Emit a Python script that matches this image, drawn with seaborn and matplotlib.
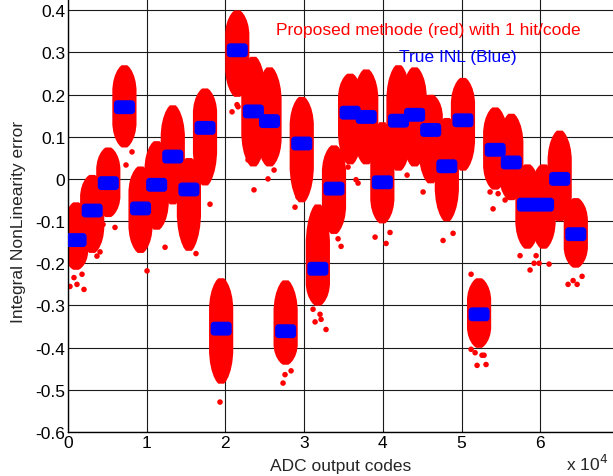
import numpy as np
import pandas as pd
import matplotlib
matplotlib.use("Agg")
import matplotlib.pyplot as plt
from matplotlib.path import Path
import seaborn as sns

# ADC of 2^16 codes split into 32 segments of 2048 codes (x axis in units of 1e4 codes)
n_segments = 32
codes_per_segment = 2048

# true INL level of each segment (blue)
true_inl = [-0.145, -0.075, -0.010, 0.170, -0.070, -0.014, 0.053, -0.025,
            0.121, -0.355, 0.305, 0.160, 0.137, -0.361, 0.084, -0.213,
            -0.023, 0.157, 0.147, -0.008, 0.138, 0.152, 0.116, 0.030,
            0.139, -0.321, 0.069, 0.039, -0.061, -0.061, 0.000, -0.131]

# extent of the dense cloud of estimated INL values (red), per segment
red_hi = [-0.058, 0.007, 0.072, 0.267, 0.027, 0.087, 0.172, 0.047,
          0.212, -0.238, 0.397, 0.287, 0.262, -0.243, 0.192, -0.063,
          0.077, 0.247, 0.257, 0.132, 0.267, 0.262, 0.197, 0.142,
          0.237, -0.238, 0.167, 0.152, 0.032, 0.032, 0.112, -0.048]
red_lo = [-0.213, -0.173, -0.088, 0.077, -0.173, -0.118, -0.058, -0.168,
          -0.013, -0.483, 0.197, 0.032, 0.032, -0.438, -0.053, -0.298,
          -0.128, 0.037, 0.037, -0.103, 0.022, 0.032, -0.008, -0.098,
          0.022, -0.398, -0.023, -0.048, -0.163, -0.163, -0.098, -0.208]

# isolated estimates lying outside the dense clouds
outlier_x = [0.025, 0.114, 0.203, 0.076, 0.178, 0.368, 0.407, 0.445, 0.597,
             0.737, 0.813, 1.004, 1.233, 1.499, 1.626, 1.576, 1.804, 1.931,
             2.084, 2.147, 2.160, 2.363, 2.287, 2.541, 2.618, 2.732, 2.757,
             2.834, 2.884, 2.922, 3.113, 3.215, 3.139, 3.278, 3.202, 3.431,
             3.469, 3.558, 3.685, 3.659, 3.901, 4.041, 4.091, 4.308, 4.511,
             4.892, 4.765, 5.121, 5.172, 5.260, 5.286, 5.197, 5.311, 5.121,
             5.362, 5.464, 5.400, 5.553, 5.870, 5.921, 5.985, 6.112, 5.743,
             5.947, 6.353, 6.417, 6.468, 6.531]
outlier_y = [-0.255, -0.250, -0.262, -0.234, -0.226, -0.183, -0.173, -0.108, -0.115,
             0.033, 0.064, -0.218, -0.162, -0.158, -0.177, -0.150, -0.060, -0.529,
             0.159, 0.176, 0.171, -0.026, 0.045, 0.000, 0.021, -0.484, -0.464,
             -0.455, -0.067, -0.043, -0.309, -0.333, -0.339, -0.357, -0.321, -0.142,
             -0.160, 0.028, -0.010, -0.002, -0.138, -0.153, -0.127, 0.009, -0.031,
             -0.129, -0.146, -0.404, -0.412, -0.418, -0.418, -0.442, -0.440, -0.226,
             -0.031, -0.035, -0.071, -0.050, -0.216, -0.200, -0.200, -0.202, -0.182,
             -0.182, -0.250, -0.241, -0.250, -0.231]

y_ticks = [-0.6, -0.5, -0.4, -0.3, -0.2, -0.1, 0, 0.1, 0.2, 0.3, 0.4]
y_tick_labels = ["-0.6", "-0.5", "-0.4", "-0.3", "-0.2", "-0.1", "0", "0.1", "0.2", "0.3", "0.4"]
x_ticks = [0, 1, 2, 3, 4, 5, 6]

seg_start = np.arange(n_segments) * codes_per_segment / 1e4
seg_end = seg_start + codes_per_segment / 1e4
seg_mid = (seg_start + seg_end) / 2

sns.set_style("white")
plt.rcParams["font.family"] = ["Liberation Sans", "DejaVu Sans"]

fig = plt.figure(figsize=(6.13, 4.77), dpi=100)
ax = fig.add_axes([68 / 613, 44 / 477, 551 / 613, 464 / 477])

# dense red clouds: tapered outline around each segment's true level
pad = 0.038
t_prof = np.array([0.0, 0.45, 0.62, 0.76, 0.88, 0.96, 1.0])
w_prof = np.array([1.0, 1.0, 0.92, 0.78, 0.58, 0.38, 0.22])
for i in range(n_segments):
    half = (seg_end[i] - seg_start[i]) / 2 + pad
    c = seg_mid[i]
    up = true_inl[i] + t_prof * (red_hi[i] - true_inl[i])
    dn = true_inl[i] + t_prof * (red_lo[i] - true_inl[i])
    xs = np.concatenate([c + half * w_prof, (c - half * w_prof)[::-1],
                         c - half * w_prof, (c + half * w_prof)[::-1]])
    ys = np.concatenate([up, up[::-1], dn, dn[::-1]])
    ax.fill(xs, ys, color="#ff0000", lw=1.5, ec="#ff0000", zorder=2)

outliers = pd.DataFrame({"code": outlier_x, "inl": outlier_y})
sns.scatterplot(data=outliers, x="code", y="inl", color="#ff0000", s=16,
                edgecolor="none", ax=ax, zorder=2)

# true INL: one rounded band per segment
ang = np.linspace(0, np.pi / 2, 8)
r, hw, hh = 0.32, 1.0, 0.66
corners = []
for cx, cy, a0 in [(hw - r, hh - r, 0), (-hw + r, hh - r, np.pi / 2),
                   (-hw + r, -hh + r, np.pi), (hw - r, -hh + r, 1.5 * np.pi)]:
    corners.append(np.column_stack([cx + r * np.cos(ang + a0), cy + r * np.sin(ang + a0)]))
verts = np.vstack(corners + [corners[0][:1]])
band_marker = Path(verts, closed=True)

truth = pd.DataFrame({"code": seg_mid, "inl": true_inl})
sns.scatterplot(data=truth, x="code", y="inl", color="#0000ff", marker=band_marker,
                s=230, edgecolor="none", ax=ax, zorder=3)

ax.set_xlim(0, 7)
ax.set_ylim(-0.6, 0.5)
ax.set_xticks(x_ticks)
ax.set_xticklabels([str(v) for v in x_ticks], fontsize=12.5)
ax.set_yticks(y_ticks)
ax.set_yticklabels(y_tick_labels, fontsize=12.5)
ax.tick_params(direction="in", length=4, width=0.8, colors="black", pad=2)
ax.grid(True, color="#1a1a1a", lw=0.8)
ax.set_axisbelow(True)
for side in ["left", "bottom"]:
    ax.spines[side].set_color("black")
    ax.spines[side].set_linewidth(1.0)

ax.set_xlabel("ADC output codes", fontsize=12.5)
ax.set_ylabel("Integral NonLinearity error", fontsize=12.5)
ax.xaxis.set_label_coords(0.4955, -0.056)
ax.yaxis.set_label_coords(-0.076, 0.455)

ax.text(2.643, 0.355, "Proposed methode (red) with 1 hit/code", color="#ff0000",
        fontsize=12.5, ha="left", va="center")
ax.text(4.206, 0.29, "True INL (Blue)", color="#0000ff", fontsize=12.5,
        ha="left", va="center")
fig.text(566 / 613, 3 / 477, "x 10$^4$", fontsize=12.5, ha="left", va="bottom")

fig.savefig("out.png", dpi=100)
